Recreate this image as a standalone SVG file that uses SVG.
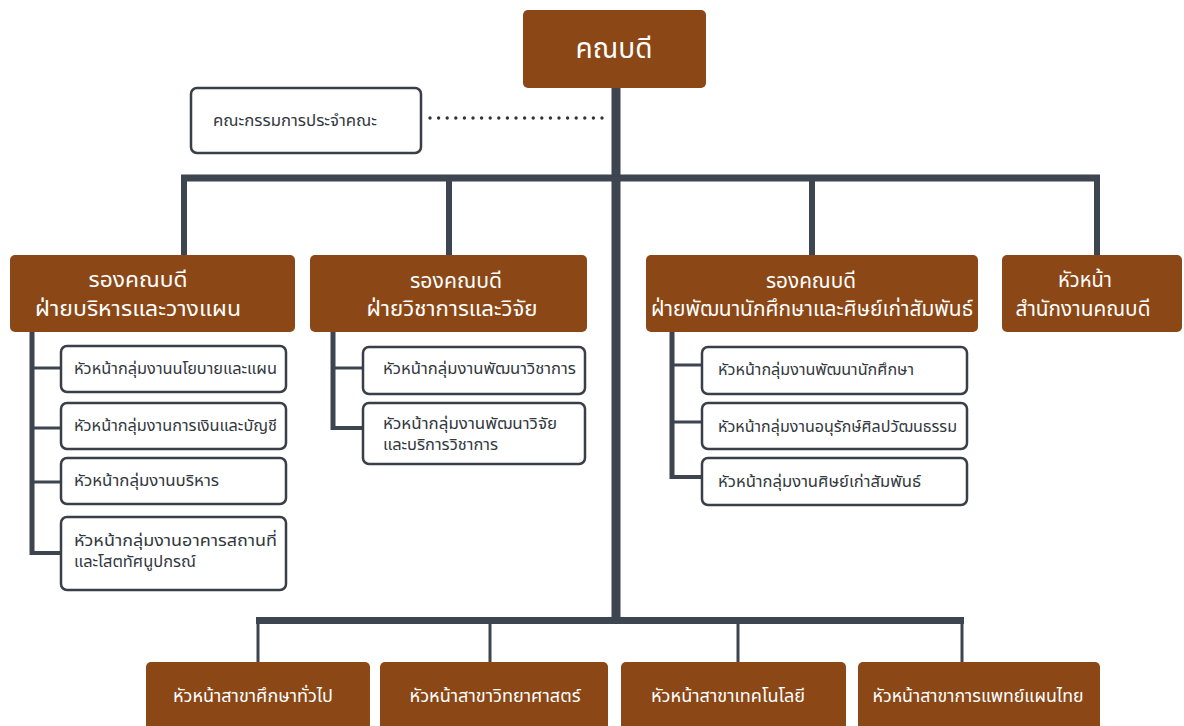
<svg xmlns="http://www.w3.org/2000/svg" width="1184" height="726" viewBox="0 0 1184 726">
<style>
.brown{fill:#8b4716;}
.sub{fill:#ffffff;stroke:#3a3f47;stroke-width:2.5;}
.t{font-family:"Noto Sans Thai","Noto Sans Thai Looped","Noto Sans","DejaVu Sans",sans-serif;}
.wt{fill:#ffffff;}
.dk{fill:#333840;}
.ln{stroke:#3d4551;fill:none;}
</style>
<rect width="1184" height="726" fill="#ffffff"/>
<g id="connectors">
<line class="ln" x1="616" y1="88" x2="616" y2="624" stroke-width="9"/>
<line class="ln" x1="181" y1="178" x2="1100" y2="178" stroke-width="7"/>
<line class="ln" x1="184" y1="176" x2="184" y2="256" stroke-width="6"/>
<line class="ln" x1="449" y1="176" x2="449" y2="256" stroke-width="6"/>
<line class="ln" x1="812" y1="176" x2="812" y2="256" stroke-width="6"/>
<line class="ln" x1="1097" y1="176" x2="1097" y2="256" stroke-width="6"/>
<line x1="430" y1="118" x2="610" y2="118" stroke="#2f333a" stroke-width="3.4" stroke-linecap="round" stroke-dasharray="0 8.6" fill="none"/>
<line class="ln" x1="32" y1="332" x2="32" y2="555" stroke-width="5"/>
<line class="ln" x1="30" y1="368" x2="61" y2="368" stroke-width="3"/>
<line class="ln" x1="30" y1="428" x2="61" y2="428" stroke-width="3"/>
<line class="ln" x1="30" y1="482" x2="61" y2="482" stroke-width="3"/>
<line class="ln" x1="30" y1="553" x2="61" y2="553" stroke-width="4"/>
<line class="ln" x1="333" y1="332" x2="333" y2="430" stroke-width="5"/>
<line class="ln" x1="331" y1="368" x2="363" y2="368" stroke-width="3"/>
<line class="ln" x1="331" y1="428" x2="363" y2="428" stroke-width="4"/>
<line class="ln" x1="672" y1="332" x2="672" y2="479" stroke-width="5"/>
<line class="ln" x1="670" y1="365" x2="702" y2="365" stroke-width="3"/>
<line class="ln" x1="670" y1="422" x2="702" y2="422" stroke-width="3"/>
<line class="ln" x1="670" y1="477" x2="702" y2="477" stroke-width="4"/>
<line class="ln" x1="256" y1="620.5" x2="964" y2="620.5" stroke-width="7"/>
<line class="ln" x1="258" y1="620" x2="258" y2="663" stroke-width="3"/>
<line class="ln" x1="490" y1="620" x2="490" y2="663" stroke-width="3"/>
<line class="ln" x1="738" y1="620" x2="738" y2="663" stroke-width="3"/>
<line class="ln" x1="962" y1="620" x2="962" y2="663" stroke-width="3"/>
</g>
<g id="dean">
<rect class="brown" x="523" y="10" width="183" height="78" rx="5"/>
<text class="t wt" x="614" y="58" font-size="28" text-anchor="middle" textLength="77" lengthAdjust="spacingAndGlyphs">คณบดี</text>
</g>
<g id="committee">
<rect class="sub" x="191" y="88" width="230" height="65" rx="6"/>
<text class="t dk" x="213" y="126" font-size="16" textLength="164" lengthAdjust="spacingAndGlyphs">คณะกรรมการประจำคณะ</text>
</g>
<g id="vp-admin">
<rect class="brown" x="10" y="255" width="285" height="77" rx="5"/>
<text class="t wt" x="138" y="287" font-size="22" text-anchor="middle" textLength="99" lengthAdjust="spacingAndGlyphs">รองคณบดี</text>
<text class="t wt" x="138" y="316" font-size="22" text-anchor="middle" textLength="206" lengthAdjust="spacingAndGlyphs">ฝ่ายบริหารและวางแผน</text>
</g>
<g id="vp-academic">
<rect class="brown" x="310" y="255" width="277" height="77" rx="5"/>
<text class="t wt" x="456" y="288" font-size="22" text-anchor="middle" textLength="92" lengthAdjust="spacingAndGlyphs">รองคณบดี</text>
<text class="t wt" x="452" y="316" font-size="22" text-anchor="middle" textLength="171" lengthAdjust="spacingAndGlyphs">ฝ่ายวิชาการและวิจัย</text>
</g>
<g id="vp-student">
<rect class="brown" x="646" y="255" width="332" height="77" rx="5"/>
<text class="t wt" x="811" y="288" font-size="22" text-anchor="middle" textLength="90" lengthAdjust="spacingAndGlyphs">รองคณบดี</text>
<text class="t wt" x="812" y="316" font-size="22" text-anchor="middle" textLength="322" lengthAdjust="spacingAndGlyphs">ฝ่ายพัฒนานักศึกษาและศิษย์เก่าสัมพันธ์</text>
</g>
<g id="office-head">
<rect class="brown" x="1002" y="255" width="180" height="77" rx="5"/>
<text class="t wt" x="1085" y="287" font-size="22" text-anchor="middle" textLength="54" lengthAdjust="spacingAndGlyphs">หัวหน้า</text>
<text class="t wt" x="1083" y="316" font-size="22" text-anchor="middle" textLength="135" lengthAdjust="spacingAndGlyphs">สำนักงานคณบดี</text>
</g>
<g id="a1">
<rect class="sub" x="61" y="346" width="225" height="46" rx="6"/>
<text class="t dk" x="74" y="374" font-size="16" textLength="203" lengthAdjust="spacingAndGlyphs">หัวหน้ากลุ่มงานนโยบายและแผน</text>
</g>
<g id="a2">
<rect class="sub" x="61" y="403" width="225" height="46" rx="6"/>
<text class="t dk" x="74" y="431" font-size="16" textLength="203" lengthAdjust="spacingAndGlyphs">หัวหน้ากลุ่มงานการเงินและบัญชี</text>
</g>
<g id="a3">
<rect class="sub" x="61" y="458" width="225" height="46" rx="6"/>
<text class="t dk" x="74" y="486" font-size="16" textLength="145" lengthAdjust="spacingAndGlyphs">หัวหน้ากลุ่มงานบริหาร</text>
</g>
<g id="a4">
<rect class="sub" x="61" y="517" width="225" height="73" rx="6"/>
<text class="t dk" x="74" y="546" font-size="16" textLength="203" lengthAdjust="spacingAndGlyphs">หัวหน้ากลุ่มงานอาคารสถานที่</text>
<text class="t dk" x="74" y="567" font-size="16" textLength="122" lengthAdjust="spacingAndGlyphs">และโสตทัศนูปกรณ์</text>
</g>
<g id="b1">
<rect class="sub" x="363" y="347" width="222" height="47" rx="6"/>
<text class="t dk" x="383" y="374" font-size="16" textLength="193" lengthAdjust="spacingAndGlyphs">หัวหน้ากลุ่มงานพัฒนาวิชาการ</text>
</g>
<g id="b2">
<rect class="sub" x="363" y="403" width="222" height="61" rx="6"/>
<text class="t dk" x="383" y="429" font-size="16" textLength="174" lengthAdjust="spacingAndGlyphs">หัวหน้ากลุ่มงานพัฒนาวิจัย</text>
<text class="t dk" x="383" y="450" font-size="16" textLength="115" lengthAdjust="spacingAndGlyphs">และบริการวิชาการ</text>
</g>
<g id="c1">
<rect class="sub" x="702" y="347" width="265" height="47" rx="6"/>
<text class="t dk" x="718" y="375" font-size="16" textLength="196" lengthAdjust="spacingAndGlyphs">หัวหน้ากลุ่มงานพัฒนานักศึกษา</text>
</g>
<g id="c2">
<rect class="sub" x="702" y="403" width="265" height="46" rx="6"/>
<text class="t dk" x="718" y="432" font-size="16" textLength="239" lengthAdjust="spacingAndGlyphs">หัวหน้ากลุ่มงานอนุรักษ์ศิลปวัฒนธรรม</text>
</g>
<g id="c3">
<rect class="sub" x="702" y="458" width="265" height="47" rx="6"/>
<text class="t dk" x="718" y="487" font-size="16" textLength="203" lengthAdjust="spacingAndGlyphs">หัวหน้ากลุ่มงานศิษย์เก่าสัมพันธ์</text>
</g>
<g id="d1">
<rect class="brown" x="146" y="662" width="224" height="70" rx="5"/>
<text class="t wt" x="253" y="702" font-size="18" text-anchor="middle" textLength="160" lengthAdjust="spacingAndGlyphs">หัวหน้าสาขาศึกษาทั่วไป</text>
</g>
<g id="d2">
<rect class="brown" x="380" y="662" width="228" height="70" rx="5"/>
<text class="t wt" x="495" y="702" font-size="18" text-anchor="middle" textLength="171" lengthAdjust="spacingAndGlyphs">หัวหน้าสาขาวิทยาศาสตร์</text>
</g>
<g id="d3">
<rect class="brown" x="621" y="662" width="225" height="70" rx="5"/>
<text class="t wt" x="728" y="702" font-size="18" text-anchor="middle" textLength="154" lengthAdjust="spacingAndGlyphs">หัวหน้าสาขาเทคโนโลยี</text>
</g>
<g id="d4">
<rect class="brown" x="858" y="662" width="242" height="70" rx="5"/>
<text class="t wt" x="978" y="702" font-size="18" text-anchor="middle" textLength="211" lengthAdjust="spacingAndGlyphs">หัวหน้าสาขาการแพทย์แผนไทย</text>
</g>
</svg>
